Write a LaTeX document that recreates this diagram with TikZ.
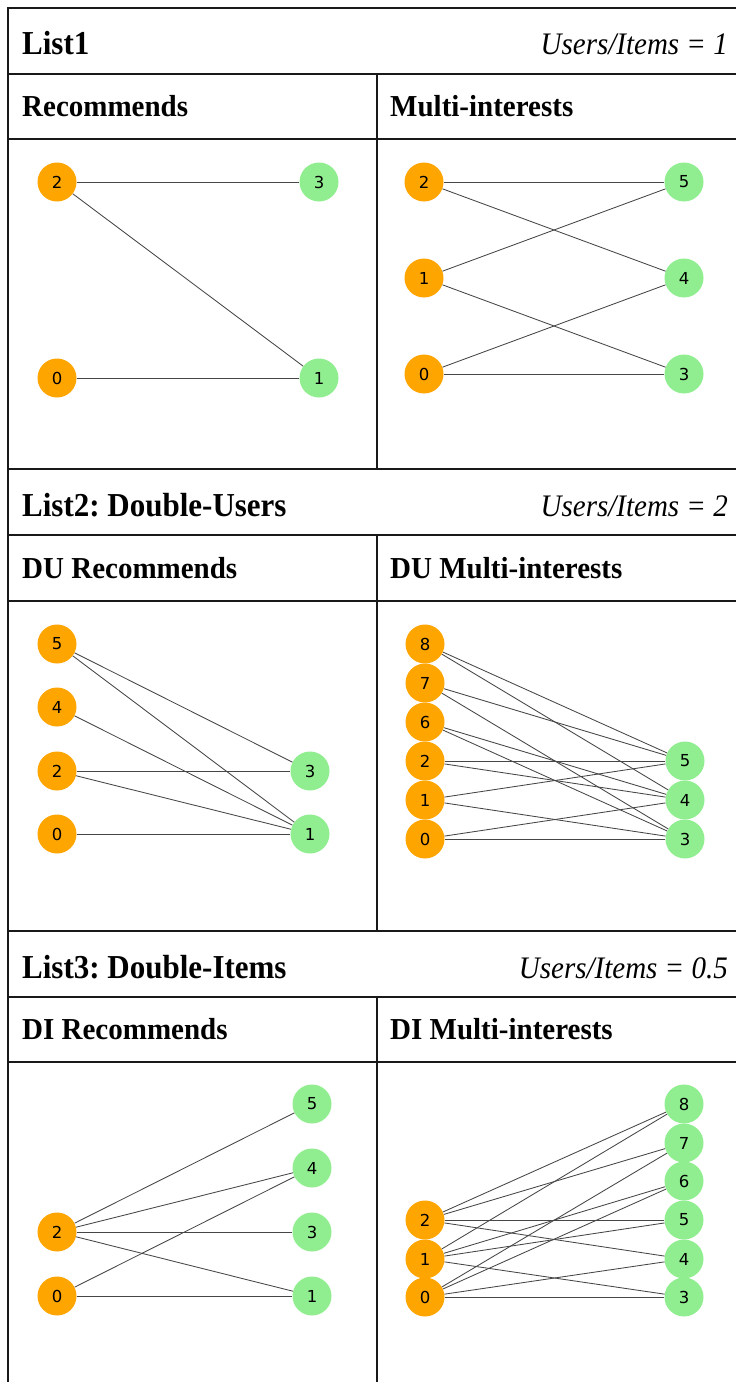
\documentclass[tikz,border=0pt]{standalone}
\usepackage{fontspec}
\setmainfont{Liberation Serif}
\newfontfamily\nodefont{DejaVu Sans}
\frenchspacing
\definecolor{usercol}{RGB}{255,165,0}
\definecolor{itemcol}{RGB}{144,238,144}
\definecolor{edgecol}{RGB}{70,70,70}
\tikzset{
  vtx/.style={circle, inner sep=0pt, minimum size=39pt, text=black,
    font=\nodefont\fontsize{16.5}{16.5}\selectfont},
  user/.style={vtx, fill=usercol},
  item/.style={vtx, fill=itemcol},
  edge/.style={draw=edgecol, line width=0.85pt},
  grid/.style={draw=black!90, line width=2pt},
  head/.style={anchor=base west, inner sep=0pt, yscale=1.08, font=\fontsize{31}{31}\selectfont\bfseries},
  subhead/.style={anchor=base west, inner sep=0pt, yscale=1.05, font=\fontsize{29}{29}\selectfont\bfseries},
  ratio/.style={anchor=base east, inner sep=0pt, yscale=1.08, font=\fontsize{29}{29}\selectfont\itshape},
}
\begin{document}
\begin{tikzpicture}[x=1pt, y=-1pt]
\useasboundingbox (0,0) rectangle (736,1382);
% ---------- table grid ----------
\draw[grid] (8,1382) -- (8,8) -- (736,8);
\foreach \yy in {74,139,469,535,601,931,997,1062}
  \draw[grid] (8,\yy) -- (736,\yy);
\draw[grid] (377,74) -- (377,469);
\draw[grid] (377,535) -- (377,931);
\draw[grid] (377,997) -- (377,1382);
% ---------- headings ----------
\node[head] (h1) at (22,54) {List1};
\node[ratio] (r1) at (728,54) {Users/Items = 1};
\node[subhead] (s1a) at (22,116) {Recommends};
\node[subhead] (s1b) at (390,116) {Multi-interests};
\node[head] (h2) at (22,516) {List2: Double-Users};
\node[ratio] (r2) at (728,516) {Users/Items = 2};
\node[subhead] (s2a) at (22,578) {DU Recommends};
\node[subhead] (s2b) at (390,578) {DU Multi-interests};
\node[head] (h3) at (22,978) {List3: Double-Items};
\node[ratio] (r3) at (728,978) {Users/Items = 0.5};
\node[subhead] (s3a) at (22,1039) {DI Recommends};
\node[subhead] (s3b) at (390,1039) {DI Multi-interests};
% ---------- List1 Recommends ----------
\node[user] (au2) at (57,182) {2};
\node[user] (au0) at (57,378) {0};
\node[item] (ai3) at (319,182) {3};
\node[item] (ai1) at (319,378) {1};
\foreach \u/\i in {2/3,2/1,0/1} \draw[edge] (au\u) -- (ai\i);
% ---------- List1 Multi-interests ----------
\node[user] (bu2) at (424,182) {2};
\node[user] (bu1) at (424,278) {1};
\node[user] (bu0) at (424,374) {0};
\node[item] (bi5) at (684,182) {5};
\node[item] (bi4) at (684,278) {4};
\node[item] (bi3) at (684,374) {3};
\foreach \u/\i in {2/5,2/4,1/5,1/3,0/4,0/3} \draw[edge] (bu\u) -- (bi\i);
% ---------- DU Recommends ----------
\node[user] (cu5) at (57,644) {5};
\node[user] (cu4) at (57,707) {4};
\node[user] (cu2) at (57,771) {2};
\node[user] (cu0) at (57,834) {0};
\node[item] (ci3) at (310,771) {3};
\node[item] (ci1) at (310,834) {1};
\foreach \u/\i in {5/3,5/1,4/1,2/3,2/1,0/1} \draw[edge] (cu\u) -- (ci\i);
% ---------- DU Multi-interests ----------
\node[user] (du8) at (425,644) {8};
\node[user] (du7) at (425,683) {7};
\node[user] (du6) at (425,722) {6};
\node[user] (du2) at (425,761) {2};
\node[user] (du1) at (425,800) {1};
\node[user] (du0) at (425,839) {0};
\node[item] (di5) at (685,761) {5};
\node[item] (di4) at (685,800) {4};
\node[item] (di3) at (685,839) {3};
\foreach \u/\i in {8/5,8/4,7/5,7/3,6/4,6/3,2/5,2/4,1/5,1/3,0/4,0/3} \draw[edge] (du\u) -- (di\i);
% ---------- DI Recommends ----------
\node[user] (eu2) at (57,1232) {2};
\node[user] (eu0) at (57,1296) {0};
\node[item] (ei5) at (312,1104) {5};
\node[item] (ei4) at (312,1168) {4};
\node[item] (ei3) at (312,1232) {3};
\node[item] (ei1) at (312,1296) {1};
\foreach \u/\i in {2/5,2/4,2/3,2/1,0/4,0/1} \draw[edge] (eu\u) -- (ei\i);
% ---------- DI Multi-interests ----------
\node[user] (fu2) at (425,1220) {2};
\node[user] (fu1) at (425,1259) {1};
\node[user] (fu0) at (425,1297) {0};
\node[item] (fi8) at (684,1104) {8};
\node[item] (fi7) at (684,1143) {7};
\node[item] (fi6) at (684,1181) {6};
\node[item] (fi5) at (684,1220) {5};
\node[item] (fi4) at (684,1259) {4};
\node[item] (fi3) at (684,1297) {3};
\foreach \u/\i in {2/8,2/7,2/5,2/4,1/8,1/6,1/5,1/3,0/7,0/6,0/4,0/3} \draw[edge] (fu\u) -- (fi\i);
\end{tikzpicture}
\end{document}
